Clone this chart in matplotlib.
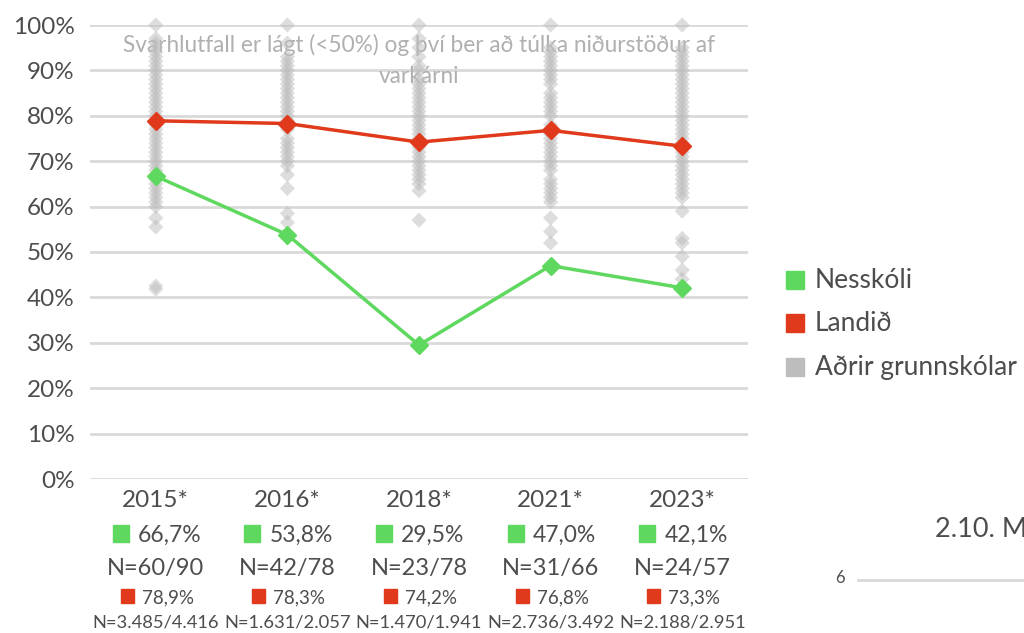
import matplotlib
matplotlib.use("Agg")
import matplotlib.pyplot as plt
import matplotlib.transforms as mtransforms
from matplotlib.patches import Rectangle

plt.rcParams['font.family'] = ['Lato', 'DejaVu Sans']

years = ["2015*", "2016*", "2018*", "2021*", "2023*"]
nesskoli = [66.7, 53.8, 29.5, 47.0, 42.1]
landid = [78.9, 78.3, 74.2, 76.8, 73.3]
nesskoli_lbl = ["66,7%", "53,8%", "29,5%", "47,0%", "42,1%"]
nesskoli_n = ["N=60/90", "N=42/78", "N=23/78", "N=31/66", "N=24/57"]
landid_lbl = ["78,9%", "78,3%", "74,2%", "76,8%", "73,3%"]
landid_n = ["N=3.485/4.416", "N=1.631/2.057", "N=1.470/1.941", "N=2.736/3.492", "N=2.188/2.951"]

other_2015 = [100, 97, 96, 95, 94, 93, 92, 91, 90, 89, 88, 87, 86, 85, 84, 83, 82, 81, 80, 79,
              78, 77, 76, 75, 74, 73, 72, 71, 70, 69, 68, 67, 66, 65, 64, 63, 62, 61, 60,
              57.5, 55.5, 42.5, 41.8]
other_2016 = [100, 96, 93, 92, 91, 90, 89, 88, 87, 86, 85, 84, 83, 82, 81, 80, 79, 77, 75,
              74, 73, 72, 71, 70, 69, 67, 64, 58.5, 56.5]
other_2018 = [100, 97, 95, 93, 91, 90, 88, 87, 86, 85, 84, 83, 82, 81, 80, 79, 78, 77, 76,
              75, 74, 73, 72, 71, 70, 69, 68, 67, 66, 65, 63.5, 57]
other_2021 = [100, 95, 94, 93, 92, 91, 90, 89, 88, 87, 85, 84, 83, 82, 81, 80, 78, 77, 76,
              75, 74, 73, 72, 71, 70, 69, 68, 66, 65, 64, 63, 62, 61, 57.5, 54.5, 52]
other_2023 = [100, 95, 94, 93, 92, 91, 90, 89, 88, 87, 86, 85, 84, 83, 82, 81, 80, 79, 78,
              77, 76, 75, 74, 72, 71, 70, 69, 68, 67, 66, 65, 64, 63, 62, 59, 53, 52, 49, 46, 44]
others = [other_2015, other_2016, other_2018, other_2021, other_2023]

GREEN = "#5fd85f"
RED = "#e0391b"
GRAY = "#bdbdbd"
TXT = "#4d4d4d"

W, H = 1024, 633
fig = plt.figure(figsize=(W/100, H/100), dpi=100)
ax = fig.add_axes([90/W, 1-479/H, (748-90)/W, (479-25)/H])
x = list(range(len(years)))

ax.set_xlim(-0.5, 4.5)
ax.set_ylim(0, 100)
ax.set_yticks(range(0, 101, 10))
ax.set_yticklabels([f"{v}%" for v in range(0, 101, 10)], fontsize=17.5, color=TXT)
ax.tick_params(axis='y', length=0, pad=11)
ax.set_xticks([])
for s in ax.spines.values():
    s.set_visible(False)
ax.grid(axis='y', color="#d9d9d9", linewidth=2)
ax.set_axisbelow(True)

ax.text(0.5, 0.98, "Svarhlutfall er lágt (<50%) og því ber að túlka niðurstöður af\nvarkárni",
        transform=ax.transAxes, ha='center', va='top', fontsize=16.3, color="#b0b0b0",
        linespacing=1.55, zorder=1)

for i, vals in enumerate(others):
    ax.scatter([i]*len(vals), vals, marker='D', s=60, color=GRAY, alpha=0.5,
               edgecolors='none', zorder=2, clip_on=False)

ax.plot(x, landid, color=RED, linewidth=2.5, marker='D', markersize=9, zorder=4)
ax.plot(x, nesskoli, color=GREEN, linewidth=2.5, marker='D', markersize=9, zorder=4)

trans = mtransforms.blended_transform_factory(ax.transData, fig.transFigure)
ppu = (748-90)/5.0  # pixels per category unit
for i in x:
    fig.text(i, 1-507/H, years[i], transform=trans, ha='center', va='baseline', fontsize=17.5, color=TXT)
    fig.text(i+14/ppu, 1-542/H, nesskoli_lbl[i], transform=trans, ha='center', va='baseline', fontsize=16.5, color=TXT)
    fig.patches.append(Rectangle((i-43/ppu, 1-542/H), 16/ppu, 17/H, transform=trans,
                                 color=GREEN, figure=fig))
    fig.text(i, 1-575/H, nesskoli_n[i], transform=trans, ha='center', va='baseline', fontsize=17, color=TXT)
    fig.text(i+12/ppu, 1-603/H, landid_lbl[i], transform=trans, ha='center', va='baseline', fontsize=13.5, color=TXT)
    fig.patches.append(Rectangle((i-35/ppu, 1-603/H), 13/ppu, 14/H, transform=trans,
                                 color=RED, figure=fig))
    fig.text(i, 1-628/H, landid_n[i], transform=trans, ha='center', va='baseline', fontsize=13.2, color=TXT)

legend_items = [("Nesskóli", GREEN, 280), ("Landið", RED, 323), ("Aðrir grunnskólar", GRAY, 367)]
for label, col, yy in legend_items:
    fig.patches.append(Rectangle((786/W, 1-(yy+9)/H), 18/W, 18/H,
                                 transform=fig.transFigure, color=col, figure=fig))
    fig.text(815/W, 1-(yy+8)/H, label, ha='left', va='baseline', fontsize=19, color=TXT)

fig.text(935/W, 1-537/H, "2.10. M", ha='left', va='baseline', fontsize=19.5, color=TXT)
fig.text(840/W, 1-583/H, "6", ha='center', va='baseline', fontsize=12, color=TXT)
fig.add_artist(plt.Line2D([858/W, 1.0], [1-580/H, 1-580/H], transform=fig.transFigure,
                          color="#d9d9d9", linewidth=2))

fig.savefig("out.png", dpi=100)
